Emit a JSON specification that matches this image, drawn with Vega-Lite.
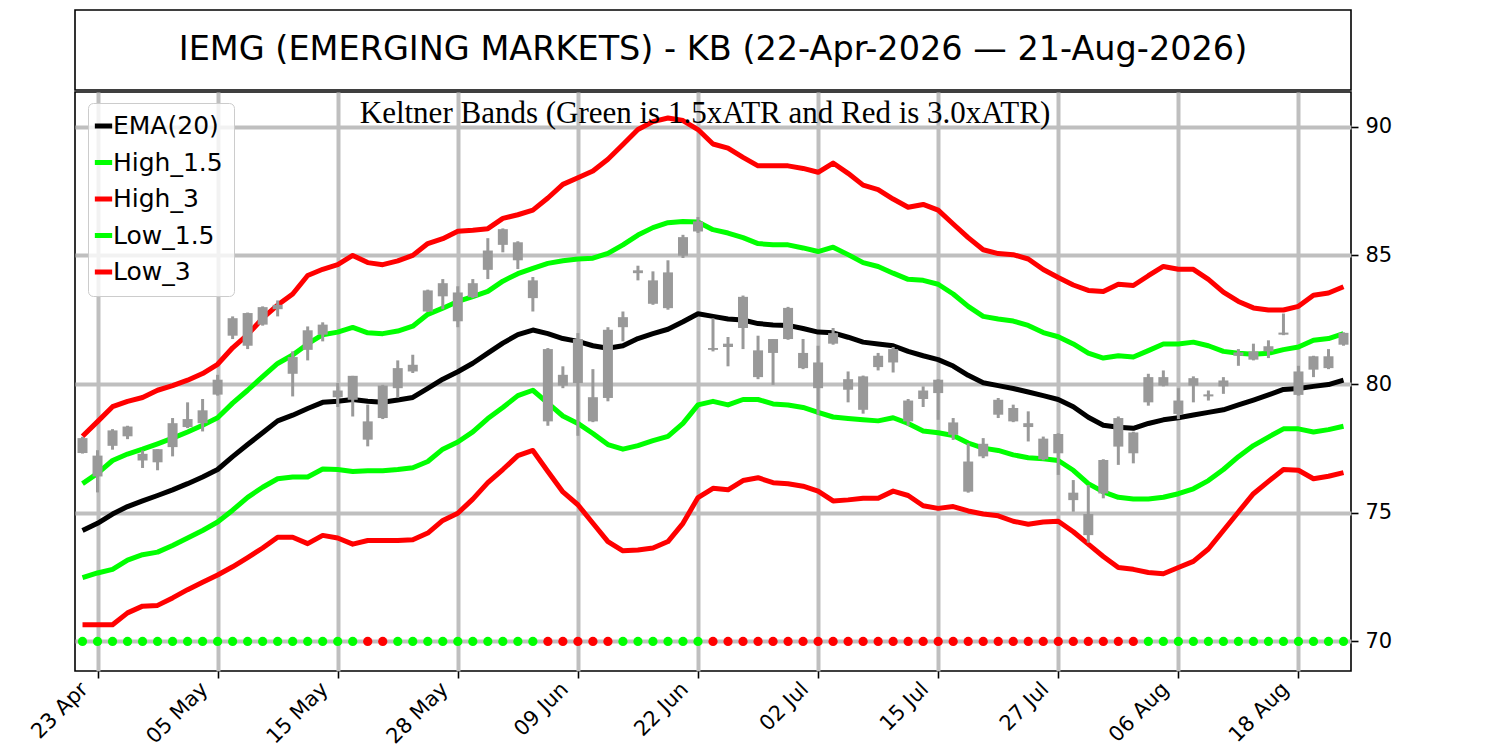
{
  "$schema": "https://vega.github.io/schema/vega-lite/v6.json",
  "background": "white",
  "padding": {"left": 26, "top": 9, "right": 0, "bottom": 0},
  "autosize": {"type": "pad"},
  "spacing": 0,
  "config": {
    "font": "DejaVu Sans",
    "view": {"stroke": "black", "strokeWidth": 1.6}
  },
  "resolve": {"legend": {"color": "independent"}},
  "vconcat": [
    {
      "width": 1276,
      "height": 80,
      "data": {"values": [{"t": "IEMG (EMERGING MARKETS) - KB (22-Apr-2026 — 21-Aug-2026)"}]},
      "layer": [
        {
          "mark": {"type": "rect", "fill": "transparent", "stroke": "black", "strokeWidth": 1.6}
        },
        {
          "mark": {"type": "text", "fontSize": 33.5, "font": "DejaVu Sans", "color": "black", "align": "center", "baseline": "middle"},
          "encoding": {"text": {"field": "t"}}
        }
      ]
    },
    {
      "width": 1276,
      "height": 579,
      "data": {
        "values": [
          {"d":"22 Apr","o":77.90,"c":77.32,"hi":77.95,"lo":77.30,"ema":74.31,"h15":76.13,"h3":77.97,"l15":72.48,"l3":70.65,"s":"g"},
          {"d":"23 Apr","o":77.22,"c":76.41,"hi":77.43,"lo":75.79,"ema":74.59,"h15":76.53,"h3":78.54,"l15":72.66,"l3":70.65,"s":"g"},
          {"d":"24 Apr","o":78.20,"c":77.60,"hi":78.25,"lo":77.45,"ema":74.95,"h15":77.03,"h3":79.12,"l15":72.80,"l3":70.65,"s":"g"},
          {"d":"27 Apr","o":78.35,"c":77.97,"hi":78.38,"lo":77.86,"ema":75.24,"h15":77.28,"h3":79.33,"l15":73.16,"l3":71.11,"s":"g"},
          {"d":"28 Apr","o":77.29,"c":77.03,"hi":77.42,"lo":76.74,"ema":75.46,"h15":77.47,"h3":79.48,"l15":73.37,"l3":71.37,"s":"g"},
          {"d":"29 Apr","o":77.47,"c":76.96,"hi":77.47,"lo":76.65,"ema":75.67,"h15":77.68,"h3":79.76,"l15":73.47,"l3":71.40,"s":"g"},
          {"d":"30 Apr","o":78.48,"c":77.55,"hi":78.68,"lo":77.19,"ema":75.89,"h15":77.90,"h3":79.94,"l15":73.73,"l3":71.69,"s":"g"},
          {"d":"01 May","o":78.64,"c":78.33,"hi":79.29,"lo":78.29,"ema":76.13,"h15":78.14,"h3":80.15,"l15":74.02,"l3":72.01,"s":"g"},
          {"d":"04 May","o":78.98,"c":78.48,"hi":79.42,"lo":78.16,"ema":76.39,"h15":78.40,"h3":80.41,"l15":74.31,"l3":72.30,"s":"g"},
          {"d":"05 May","o":80.17,"c":79.59,"hi":80.36,"lo":79.55,"ema":76.68,"h15":78.69,"h3":80.77,"l15":74.64,"l3":72.58,"s":"g"},
          {"d":"06 May","o":82.56,"c":81.88,"hi":82.63,"lo":81.75,"ema":77.18,"h15":79.26,"h3":81.41,"l15":75.10,"l3":72.90,"s":"g"},
          {"d":"07 May","o":82.76,"c":81.49,"hi":82.78,"lo":81.36,"ema":77.65,"h15":79.76,"h3":81.92,"l15":75.60,"l3":73.26,"s":"g"},
          {"d":"08 May","o":82.99,"c":82.31,"hi":83.02,"lo":82.27,"ema":78.11,"h15":80.29,"h3":82.56,"l15":75.99,"l3":73.63,"s":"g"},
          {"d":"11 May","o":83.08,"c":82.91,"hi":83.25,"lo":82.63,"ema":78.57,"h15":80.80,"h3":83.07,"l15":76.32,"l3":74.05,"s":"g"},
          {"d":"12 May","o":81.05,"c":80.40,"hi":81.27,"lo":79.52,"ema":78.79,"h15":81.13,"h3":83.50,"l15":76.39,"l3":74.05,"s":"g"},
          {"d":"13 May","o":82.09,"c":81.33,"hi":82.24,"lo":80.92,"ema":79.05,"h15":81.56,"h3":84.22,"l15":76.39,"l3":73.80,"s":"g"},
          {"d":"14 May","o":82.31,"c":81.92,"hi":82.40,"lo":81.66,"ema":79.29,"h15":81.92,"h3":84.46,"l15":76.70,"l3":74.12,"s":"g"},
          {"d":"15 May","o":79.75,"c":79.49,"hi":80.04,"lo":79.11,"ema":79.33,"h15":82.02,"h3":84.64,"l15":76.68,"l3":74.02,"s":"g"},
          {"d":"18 May","o":80.32,"c":79.39,"hi":80.32,"lo":78.74,"ema":79.40,"h15":82.20,"h3":85.00,"l15":76.60,"l3":73.78,"s":"g"},
          {"d":"19 May","o":78.55,"c":77.84,"hi":79.20,"lo":77.58,"ema":79.33,"h15":81.99,"h3":84.72,"l15":76.63,"l3":73.92,"s":"r"},
          {"d":"20 May","o":79.94,"c":78.68,"hi":79.97,"lo":78.64,"ema":79.29,"h15":81.96,"h3":84.64,"l15":76.63,"l3":73.92,"s":"r"},
          {"d":"21 May","o":80.62,"c":79.84,"hi":80.92,"lo":79.46,"ema":79.38,"h15":82.06,"h3":84.79,"l15":76.68,"l3":73.92,"s":"g"},
          {"d":"22 May","o":80.75,"c":80.49,"hi":81.14,"lo":80.43,"ema":79.48,"h15":82.25,"h3":85.00,"l15":76.75,"l3":73.95,"s":"g"},
          {"d":"26 May","o":83.64,"c":82.82,"hi":83.67,"lo":82.80,"ema":79.83,"h15":82.71,"h3":85.46,"l15":76.99,"l3":74.21,"s":"g"},
          {"d":"27 May","o":83.92,"c":83.41,"hi":84.08,"lo":82.91,"ema":80.19,"h15":82.95,"h3":85.65,"l15":77.47,"l3":74.70,"s":"g"},
          {"d":"28 May","o":83.56,"c":82.44,"hi":83.80,"lo":82.21,"ema":80.48,"h15":83.21,"h3":85.94,"l15":77.75,"l3":74.98,"s":"g"},
          {"d":"29 May","o":83.92,"c":83.38,"hi":84.08,"lo":83.34,"ema":80.81,"h15":83.40,"h3":85.98,"l15":78.14,"l3":75.53,"s":"g"},
          {"d":"01 Jun","o":85.19,"c":84.44,"hi":85.67,"lo":84.08,"ema":81.20,"h15":83.60,"h3":86.04,"l15":78.66,"l3":76.17,"s":"g"},
          {"d":"02 Jun","o":86.02,"c":85.41,"hi":86.05,"lo":85.12,"ema":81.59,"h15":84.00,"h3":86.44,"l15":79.09,"l3":76.68,"s":"g"},
          {"d":"03 Jun","o":85.51,"c":84.81,"hi":85.55,"lo":84.47,"ema":81.92,"h15":84.29,"h3":86.58,"l15":79.55,"l3":77.22,"s":"g"},
          {"d":"04 Jun","o":84.03,"c":83.34,"hi":84.16,"lo":82.82,"ema":82.10,"h15":84.50,"h3":86.76,"l15":79.76,"l3":77.42,"s":"g"},
          {"d":"05 Jun","o":81.36,"c":78.55,"hi":81.40,"lo":78.38,"ema":81.96,"h15":84.69,"h3":87.23,"l15":79.26,"l3":76.60,"s":"r"},
          {"d":"08 Jun","o":80.36,"c":79.94,"hi":80.69,"lo":79.84,"ema":81.77,"h15":84.79,"h3":87.76,"l15":78.76,"l3":75.81,"s":"r"},
          {"d":"09 Jun","o":81.75,"c":80.04,"hi":81.98,"lo":77.99,"ema":81.66,"h15":84.86,"h3":88.02,"l15":78.47,"l3":75.31,"s":"r"},
          {"d":"10 Jun","o":79.49,"c":78.55,"hi":80.58,"lo":78.52,"ema":81.49,"h15":84.89,"h3":88.28,"l15":78.08,"l3":74.59,"s":"r"},
          {"d":"11 Jun","o":82.11,"c":79.46,"hi":82.21,"lo":79.33,"ema":81.39,"h15":85.08,"h3":88.74,"l15":77.65,"l3":73.88,"s":"r"},
          {"d":"12 Jun","o":82.60,"c":82.21,"hi":82.82,"lo":81.66,"ema":81.49,"h15":85.41,"h3":89.31,"l15":77.47,"l3":73.52,"s":"g"},
          {"d":"15 Jun","o":84.42,"c":84.31,"hi":84.60,"lo":84.03,"ema":81.77,"h15":85.79,"h3":89.89,"l15":77.61,"l3":73.55,"s":"g"},
          {"d":"16 Jun","o":84.03,"c":83.12,"hi":84.38,"lo":83.08,"ema":81.96,"h15":86.08,"h3":90.20,"l15":77.80,"l3":73.63,"s":"g"},
          {"d":"17 Jun","o":84.34,"c":82.95,"hi":84.81,"lo":82.89,"ema":82.13,"h15":86.27,"h3":90.34,"l15":77.97,"l3":73.88,"s":"g"},
          {"d":"18 Jun","o":85.71,"c":84.99,"hi":85.80,"lo":84.90,"ema":82.42,"h15":86.32,"h3":90.24,"l15":78.47,"l3":74.59,"s":"g"},
          {"d":"22 Jun","o":86.32,"c":85.93,"hi":86.49,"lo":85.87,"ema":82.73,"h15":86.30,"h3":89.89,"l15":79.19,"l3":75.59,"s":"g"},
          {"d":"23 Jun","o":81.40,"c":81.33,"hi":82.56,"lo":81.27,"ema":82.63,"h15":86.00,"h3":89.33,"l15":79.33,"l3":75.95,"s":"r"},
          {"d":"24 Jun","o":81.57,"c":81.44,"hi":81.83,"lo":80.69,"ema":82.53,"h15":85.87,"h3":89.17,"l15":79.19,"l3":75.89,"s":"r"},
          {"d":"25 Jun","o":83.39,"c":82.18,"hi":83.44,"lo":81.36,"ema":82.49,"h15":85.69,"h3":88.81,"l15":79.40,"l3":76.25,"s":"r"},
          {"d":"26 Jun","o":81.31,"c":80.27,"hi":81.88,"lo":80.19,"ema":82.35,"h15":85.46,"h3":88.48,"l15":79.40,"l3":76.36,"s":"r"},
          {"d":"29 Jun","o":81.75,"c":81.21,"hi":81.75,"lo":79.97,"ema":82.30,"h15":85.41,"h3":88.48,"l15":79.23,"l3":76.17,"s":"r"},
          {"d":"30 Jun","o":82.96,"c":81.75,"hi":83.00,"lo":81.72,"ema":82.28,"h15":85.41,"h3":88.48,"l15":79.19,"l3":76.13,"s":"r"},
          {"d":"01 Jul","o":81.21,"c":80.62,"hi":81.75,"lo":80.58,"ema":82.16,"h15":85.29,"h3":88.38,"l15":79.09,"l3":76.03,"s":"r"},
          {"d":"02 Jul","o":80.84,"c":79.84,"hi":81.49,"lo":78.81,"ema":82.02,"h15":85.15,"h3":88.23,"l15":78.90,"l3":75.84,"s":"r"},
          {"d":"06 Jul","o":81.98,"c":81.57,"hi":82.18,"lo":81.53,"ema":81.99,"h15":85.32,"h3":88.59,"l15":78.72,"l3":75.46,"s":"r"},
          {"d":"07 Jul","o":80.19,"c":79.78,"hi":80.49,"lo":79.29,"ema":81.82,"h15":85.03,"h3":88.19,"l15":78.66,"l3":75.50,"s":"r"},
          {"d":"08 Jul","o":80.30,"c":79.00,"hi":80.33,"lo":78.85,"ema":81.63,"h15":84.72,"h3":87.73,"l15":78.61,"l3":75.56,"s":"r"},
          {"d":"09 Jul","o":81.10,"c":80.66,"hi":81.21,"lo":80.53,"ema":81.56,"h15":84.57,"h3":87.56,"l15":78.57,"l3":75.56,"s":"r"},
          {"d":"10 Jul","o":81.36,"c":80.84,"hi":81.44,"lo":80.45,"ema":81.49,"h15":84.31,"h3":87.19,"l15":78.69,"l3":75.84,"s":"r"},
          {"d":"13 Jul","o":79.36,"c":78.55,"hi":79.42,"lo":78.38,"ema":81.27,"h15":84.07,"h3":86.87,"l15":78.47,"l3":75.67,"s":"r"},
          {"d":"14 Jul","o":79.75,"c":79.42,"hi":79.91,"lo":79.11,"ema":81.10,"h15":84.03,"h3":86.98,"l15":78.18,"l3":75.27,"s":"r"},
          {"d":"15 Jul","o":80.17,"c":79.65,"hi":80.19,"lo":78.61,"ema":80.95,"h15":83.88,"h3":86.76,"l15":78.11,"l3":75.17,"s":"r"},
          {"d":"16 Jul","o":78.51,"c":78.03,"hi":78.68,"lo":77.83,"ema":80.70,"h15":83.50,"h3":86.22,"l15":78.00,"l3":75.24,"s":"r"},
          {"d":"17 Jul","o":76.99,"c":75.82,"hi":77.70,"lo":75.78,"ema":80.34,"h15":83.02,"h3":85.69,"l15":77.71,"l3":75.07,"s":"r"},
          {"d":"20 Jul","o":77.68,"c":77.19,"hi":77.90,"lo":77.12,"ema":80.05,"h15":82.63,"h3":85.22,"l15":77.51,"l3":74.95,"s":"r"},
          {"d":"21 Jul","o":79.39,"c":78.81,"hi":79.46,"lo":78.68,"ema":79.94,"h15":82.53,"h3":85.07,"l15":77.42,"l3":74.88,"s":"r"},
          {"d":"22 Jul","o":79.07,"c":78.55,"hi":79.20,"lo":78.52,"ema":79.83,"h15":82.45,"h3":85.03,"l15":77.25,"l3":74.67,"s":"r"},
          {"d":"23 Jul","o":78.48,"c":78.33,"hi":78.94,"lo":77.77,"ema":79.69,"h15":82.28,"h3":84.86,"l15":77.14,"l3":74.55,"s":"r"},
          {"d":"24 Jul","o":77.88,"c":77.08,"hi":77.96,"lo":77.04,"ema":79.55,"h15":82.00,"h3":84.45,"l15":77.10,"l3":74.64,"s":"r"},
          {"d":"27 Jul","o":78.06,"c":77.31,"hi":78.09,"lo":76.47,"ema":79.40,"h15":81.84,"h3":84.14,"l15":77.03,"l3":74.67,"s":"r"},
          {"d":"28 Jul","o":75.78,"c":75.49,"hi":76.27,"lo":75.04,"ema":79.12,"h15":81.56,"h3":83.85,"l15":76.65,"l3":74.26,"s":"r"},
          {"d":"29 Jul","o":74.95,"c":74.13,"hi":76.08,"lo":73.83,"ema":78.71,"h15":81.20,"h3":83.64,"l15":76.13,"l3":73.78,"s":"r"},
          {"d":"30 Jul","o":77.05,"c":75.75,"hi":77.08,"lo":75.56,"ema":78.40,"h15":81.01,"h3":83.60,"l15":75.81,"l3":73.30,"s":"r"},
          {"d":"31 Jul","o":78.68,"c":77.57,"hi":78.74,"lo":76.86,"ema":78.32,"h15":81.10,"h3":83.88,"l15":75.60,"l3":72.87,"s":"r"},
          {"d":"03 Aug","o":78.12,"c":77.31,"hi":78.15,"lo":76.92,"ema":78.28,"h15":81.05,"h3":83.83,"l15":75.53,"l3":72.80,"s":"r"},
          {"d":"04 Aug","o":80.27,"c":79.29,"hi":80.40,"lo":79.16,"ema":78.47,"h15":81.30,"h3":84.21,"l15":75.53,"l3":72.68,"s":"g"},
          {"d":"05 Aug","o":80.27,"c":79.94,"hi":80.53,"lo":79.91,"ema":78.61,"h15":81.56,"h3":84.57,"l15":75.60,"l3":72.63,"s":"g"},
          {"d":"06 Aug","o":79.36,"c":78.84,"hi":79.84,"lo":78.64,"ema":78.69,"h15":81.56,"h3":84.46,"l15":75.74,"l3":72.87,"s":"g"},
          {"d":"07 Aug","o":80.23,"c":79.94,"hi":80.30,"lo":79.29,"ema":78.80,"h15":81.63,"h3":84.46,"l15":75.93,"l3":73.11,"s":"g"},
          {"d":"10 Aug","o":79.60,"c":79.52,"hi":79.75,"lo":79.36,"ema":78.90,"h15":81.49,"h3":84.07,"l15":76.25,"l3":73.59,"s":"g"},
          {"d":"11 Aug","o":80.14,"c":79.91,"hi":80.27,"lo":79.62,"ema":79.00,"h15":81.27,"h3":83.57,"l15":76.68,"l3":74.31,"s":"g"},
          {"d":"12 Aug","o":81.23,"c":81.10,"hi":81.36,"lo":80.71,"ema":79.19,"h15":81.20,"h3":83.21,"l15":77.18,"l3":75.03,"s":"g"},
          {"d":"13 Aug","o":81.27,"c":80.95,"hi":81.57,"lo":80.92,"ema":79.38,"h15":81.16,"h3":82.96,"l15":77.61,"l3":75.74,"s":"g"},
          {"d":"14 Aug","o":81.47,"c":81.27,"hi":81.70,"lo":81.01,"ema":79.58,"h15":81.20,"h3":82.88,"l15":77.94,"l3":76.22,"s":"g"},
          {"d":"17 Aug","o":82.00,"c":81.92,"hi":82.74,"lo":81.90,"ema":79.79,"h15":81.34,"h3":82.88,"l15":78.26,"l3":76.68,"s":"g"},
          {"d":"18 Aug","o":80.49,"c":79.58,"hi":80.71,"lo":79.55,"ema":79.83,"h15":81.44,"h3":83.02,"l15":78.26,"l3":76.65,"s":"g"},
          {"d":"19 Aug","o":81.08,"c":80.56,"hi":81.10,"lo":80.27,"ema":79.91,"h15":81.70,"h3":83.45,"l15":78.14,"l3":76.32,"s":"g"},
          {"d":"20 Aug","o":81.08,"c":80.62,"hi":81.36,"lo":80.58,"ema":79.98,"h15":81.77,"h3":83.54,"l15":78.23,"l3":76.42,"s":"g"},
          {"d":"21 Aug","o":81.99,"c":81.53,"hi":82.01,"lo":81.49,"ema":80.15,"h15":81.96,"h3":83.78,"l15":78.36,"l3":76.56,"s":"g"}
        ]
      },
      "encoding": {
        "x": {
          "field": "d",
          "type": "ordinal",
          "scale": {
            "type": "point",
            "padding": 0.5,
            "domain": ["22 Apr","23 Apr","24 Apr","27 Apr","28 Apr","29 Apr","30 Apr","01 May","04 May","05 May","06 May","07 May","08 May","11 May","12 May","13 May","14 May","15 May","18 May","19 May","20 May","21 May","22 May","26 May","27 May","28 May","29 May","01 Jun","02 Jun","03 Jun","04 Jun","05 Jun","08 Jun","09 Jun","10 Jun","11 Jun","12 Jun","15 Jun","16 Jun","17 Jun","18 Jun","22 Jun","23 Jun","24 Jun","25 Jun","26 Jun","29 Jun","30 Jun","01 Jul","02 Jul","06 Jul","07 Jul","08 Jul","09 Jul","10 Jul","13 Jul","14 Jul","15 Jul","16 Jul","17 Jul","20 Jul","21 Jul","22 Jul","23 Jul","24 Jul","27 Jul","28 Jul","29 Jul","30 Jul","31 Jul","03 Aug","04 Aug","05 Aug","06 Aug","07 Aug","10 Aug","11 Aug","12 Aug","13 Aug","14 Aug","17 Aug","18 Aug","19 Aug","20 Aug","21 Aug"]
          },
          "axis": {
            "values": ["23 Apr","05 May","15 May","28 May","09 Jun","22 Jun","02 Jul","15 Jul","27 Jul","06 Aug","18 Aug"],
            "title": null,
            "domain": false,
            "grid": true,
            "gridColor": "#bfbfbf",
            "gridWidth": 4,
            "tickSize": 7,
            "tickWidth": 1.6,
            "tickColor": "black",
            "labelAngle": -45,
            "labelAlign": "right",
            "labelBaseline": "top",
            "labelOffset": -21,
            "labelPadding": 0,
            "labelFont": "DejaVu Sans",
            "labelFontSize": 21,
            "labelColor": "black",
            "labelOverlap": false,
            "labelBound": false
          }
        }
      },
      "layer": [
        {
          "mark": {"type": "line", "strokeWidth": 5, "strokeJoin": "round"},
          "encoding": {
            "y": {
              "field": "ema",
              "type": "quantitative",
              "scale": {"domain": [68.85, 91.35], "nice": false, "zero": false},
              "axis": {
                "orient": "right",
                "values": [70, 75, 80, 85, 90],
                "title": null,
                "domain": false,
                "grid": true,
                "gridColor": "#bfbfbf",
                "gridWidth": 4,
                "tickSize": 7,
                "tickWidth": 1.6,
                "tickColor": "black",
                "labelPadding": 7,
                "labelFont": "DejaVu Sans",
                "labelFontSize": 21,
                "labelColor": "black"
              }
            },
            "color": {
              "datum": "EMA(20)",
              "type": "nominal",
              "scale": {
                "domain": ["EMA(20)", "High_1.5", "High_3", "Low_1.5", "Low_3"],
                "range": ["#000000", "#00ff00", "#ff0000", "#00ff00", "#ff0000"]
              },
              "legend": {
                "title": null,
                "orient": "none",
                "legendX": 13,
                "legendY": 11,
                "padding": 10.5,
                "rowPadding": 10.5,
                "symbolType": "stroke",
                "symbolSize": 300,
                "symbolStrokeWidth": 5,
                "symbolOffset": -7.5,
                "labelOffset": -3,
                "labelFont": "DejaVu Sans",
                "labelFontSize": 25,
                "labelColor": "black",
                "labelLimit": 400,
                "fillColor": "rgba(255,255,255,0.8)",
                "strokeColor": "#cccccc",
                "cornerRadius": 5
              }
            }
          }
        },
        {
          "mark": {"type": "line", "strokeWidth": 5, "strokeJoin": "round"},
          "encoding": {
            "y": {"field": "h15", "type": "quantitative", "title": null},
            "color": {"datum": "High_1.5", "type": "nominal"}
          }
        },
        {
          "mark": {"type": "line", "strokeWidth": 5, "strokeJoin": "round"},
          "encoding": {
            "y": {"field": "h3", "type": "quantitative", "title": null},
            "color": {"datum": "High_3", "type": "nominal"}
          }
        },
        {
          "mark": {"type": "line", "strokeWidth": 5, "strokeJoin": "round"},
          "encoding": {
            "y": {"field": "l15", "type": "quantitative", "title": null},
            "color": {"datum": "Low_1.5", "type": "nominal"}
          }
        },
        {
          "mark": {"type": "line", "strokeWidth": 5, "strokeJoin": "round"},
          "encoding": {
            "y": {"field": "l3", "type": "quantitative", "title": null},
            "color": {"datum": "Low_3", "type": "nominal"}
          }
        },
        {
          "mark": {"type": "rule", "color": "#999999", "strokeWidth": 3},
          "encoding": {
            "y": {"field": "lo", "type": "quantitative", "title": null},
            "y2": {"field": "hi"}
          }
        },
        {
          "mark": {"type": "bar", "color": "#999999", "width": 10},
          "encoding": {
            "y": {"field": "o", "type": "quantitative", "title": null},
            "y2": {"field": "c"}
          }
        },
        {
          "mark": {"type": "point", "filled": true, "size": 85, "opacity": 1},
          "encoding": {
            "y": {"datum": 70, "type": "quantitative"},
            "color": {
              "condition": {"test": "datum.s == 'r'", "value": "#ff0000"},
              "value": "#00ff00"
            }
          }
        },
        {
          "data": {"values": [{"t": "Keltner Bands (Green is 1.5xATR and Red is 3.0xATR)"}]},
          "mark": {"type": "text", "font": "Liberation Serif", "fontSize": 31, "color": "black", "align": "center", "baseline": "middle", "dx": -8},
          "encoding": {
            "x": {"datum": "23 Jun", "type": "ordinal"},
            "y": {"datum": 90.5, "type": "quantitative"},
            "text": {"field": "t"}
          }
        }
      ]
    }
  ]
}
